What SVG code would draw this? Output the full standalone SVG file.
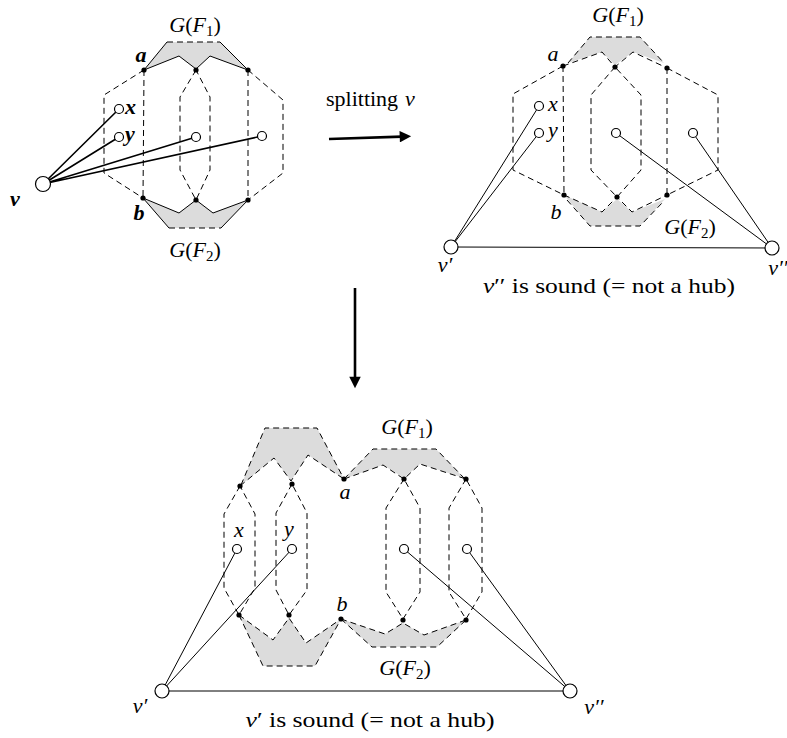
<svg xmlns="http://www.w3.org/2000/svg" width="787" height="738" viewBox="0 0 787 738">
<defs>
<style>
.d{fill:none;stroke:#000;stroke-width:1;stroke-dasharray:6,4}
.g{fill:#dcdcdc;stroke:none}
.s{fill:none;stroke:#000;stroke-width:1}
.sb{fill:none;stroke:#000;stroke-width:1.6}
.o{fill:#fff;stroke:#000;stroke-width:1.2}
.dot{fill:#000}
.arr{fill:none;stroke:#000;stroke-width:2.6}
text{font-family:"Liberation Serif","DejaVu Serif",serif;font-size:22px;fill:#000}
.i{font-style:italic}
.bi{font-style:italic;font-weight:bold}
.m{text-anchor:middle}
.sub{font-size:15px}
</style>
<marker id="ah" viewBox="0 0 10 10" refX="2" refY="5" markerWidth="5" markerHeight="4.4" orient="auto" markerUnits="strokeWidth">
<path d="M0,0 L10,5 L0,10 Z" fill="#000"/>
</marker>
</defs>

<!-- ===== Top-left diagram ===== -->
<g id="tl-F1">
<polygon class="g" points="167,42 220,42 248,70 210,56 196,69 179,56 144,70"/>
<path class="s" d="M144,70 L167,42 M220,42 L248,70 M144,70 L179,56 L196,69 L210,56 L248,70"/>
<path class="d" d="M167,42 L220,42"/>
</g>
<g id="tl-F2">
<polygon class="g" points="143,198 179,213 196,200 213,213 248,200 221,228 169,228"/>
<path class="s" d="M143,198 L169,228 M221,228 L248,200 M143,198 L179,213 L196,200 L213,213 L248,200"/>
<path class="d" d="M169,228 L221,228"/>
</g>
<g id="tl-hex">
<path class="d" d="M144,70 L104,95 L104,173 L143,198"/>
<path class="d" d="M248,70 L283,100 L283,173 L248,200"/>
<path class="d" d="M144,70 L143,198 M248,70 L248,200"/>
<path class="d" d="M196,70 L180,97 L180,170 L196,200 L210,170 L210,97 Z"/>
</g>
<g id="tl-edges">
<path class="sb" d="M43,184 L119,109 M43,184 L119,137 M43,184 L196,137 M43,184 L262,136"/>
</g>
<g id="tl-nodes">
<circle class="dot" cx="144" cy="70" r="2.6"/>
<circle class="dot" cx="196" cy="70" r="2.6"/>
<circle class="dot" cx="248" cy="70" r="2.6"/>
<circle class="dot" cx="143" cy="198" r="2.6"/>
<circle class="dot" cx="196" cy="200" r="2.6"/>
<circle class="dot" cx="248" cy="200" r="2.6"/>
<circle class="o" cx="119" cy="109" r="4.5"/>
<circle class="o" cx="119" cy="137" r="4.5"/>
<circle class="o" cx="196" cy="137" r="4.5"/>
<circle class="o" cx="262" cy="136" r="4.5"/>
<circle class="o" cx="43" cy="184" r="7.5"/>
</g>
<g id="tl-labels">
<text class="m" x="195" y="32"><tspan class="i">G</tspan>(<tspan class="i">F</tspan><tspan class="sub" dy="4">1</tspan><tspan dy="-4">)</tspan></text>
<text class="m" x="195" y="257"><tspan class="i">G</tspan>(<tspan class="i">F</tspan><tspan class="sub" dy="4">2</tspan><tspan dy="-4">)</tspan></text>
<text class="bi m" x="141" y="62">a</text>
<text class="bi m" x="139" y="220">b</text>
<text class="bi" x="125" y="114">x</text>
<text class="bi" x="125" y="141">y</text>
<text class="bi m" x="15" y="206">v</text>
</g>

<!-- ===== Splitting arrow ===== -->
<g id="split-arrow">
<text x="326" y="106">splitting</text>
<text class="i m" x="410" y="106">v</text>
<path class="arr" d="M329,139 L402,136.6" marker-end="url(#ah)"/>
</g>

<!-- ===== Top-right diagram ===== -->
<g id="tr-F1">
<polygon class="g" points="590,37 640,37 664,63 633,52 615,65 602,52 568,63"/>
<path class="d" d="M568,63 L590,37 L640,37 L664,63"/>
<path class="d" d="M563,66 L602,52 L615,67 L633,52 L667,68"/>
</g>
<g id="tr-F2">
<polygon class="g" points="564,195 602,212 617,199 632,212 665,199 640,226 590,226"/>
<path class="d" d="M567,200 L590,226 L640,226 L663,202"/>
<path class="d" d="M564,195 L602,212 L617,197 L632,212 L667,195"/>
</g>
<g id="tr-hex">
<path class="d" d="M563,66 L513,94 L513,170 L564,195"/>
<path class="d" d="M667,68 L718,95 L718,170 L667,195"/>
<path class="d" d="M563,66 L564,195 M667,68 L667,195"/>
<path class="d" d="M615,67 L591,95 L591,170 L617,197 L641,170 L641,95 Z"/>
</g>
<g id="tr-edges">
<path class="s" d="M451,247 L539,106 M451,247 L539,133 M772,248 L616,133 M772,248 L693,133 M451,247 L772,248"/>
</g>
<g id="tr-nodes">
<circle class="dot" cx="563" cy="66" r="2.6"/>
<circle class="dot" cx="615" cy="67" r="2.6"/>
<circle class="dot" cx="667" cy="68" r="2.6"/>
<circle class="dot" cx="564" cy="195" r="2.6"/>
<circle class="dot" cx="617" cy="197" r="2.6"/>
<circle class="dot" cx="667" cy="195" r="2.6"/>
<circle class="o" cx="539" cy="106" r="4.5"/>
<circle class="o" cx="539" cy="133" r="4.5"/>
<circle class="o" cx="616" cy="133" r="4.5"/>
<circle class="o" cx="693" cy="133" r="4.5"/>
<circle class="o" cx="451" cy="247" r="7"/>
<circle class="o" cx="772" cy="248" r="7"/>
</g>
<g id="tr-labels">
<text class="m" x="618" y="22"><tspan class="i">G</tspan>(<tspan class="i">F</tspan><tspan class="sub" dy="4">1</tspan><tspan dy="-4">)</tspan></text>
<text class="m" x="690" y="234"><tspan class="i">G</tspan>(<tspan class="i">F</tspan><tspan class="sub" dy="4">2</tspan><tspan dy="-4">)</tspan></text>
<text class="i m" x="553" y="61">a</text>
<text class="i m" x="556" y="219">b</text>
<text class="i" x="548" y="111">x</text>
<text class="i" x="548" y="137">y</text>
<text class="i m" x="445" y="272">v′</text>
<text class="i m" x="778" y="275">v′′</text>
<text class="m" x="609" y="293" textLength="252" lengthAdjust="spacingAndGlyphs"><tspan class="i">v</tspan>′′ is sound (= not a hub)</text>
</g>

<!-- ===== Down arrow ===== -->
<g id="down-arrow">
<path class="arr" d="M355,288 L355,379" marker-end="url(#ah)"/>
</g>

<!-- ===== Bottom diagram ===== -->
<g id="b-F1-left">
<polygon class="g" points="265,428 317,428 344,479 308,455 291,481 274,458 241,485"/>
<path class="d" d="M241,485 L265,428 L317,428 L344,479"/>
<path class="d" d="M240,486 L274,458 L291,481 L308,455 L344,479"/>
</g>
<g id="b-F1-right">
<polygon class="g" points="344,479 373,449 436,449 464,478 420,464 404,478 383,465"/>
<path class="d" d="M344,479 L373,449 L436,449 L464,478"/>
<path class="d" d="M344,479 L383,465 L404,479 L420,464 L466,479"/>
</g>
<g id="b-F2-left">
<polygon class="g" points="239,615 273,640 289,618 306,643 341,619 315,666 263,666"/>
<path class="d" d="M239,615 L263,666 L315,666 L341,619"/>
<path class="d" d="M239,615 L273,640 L289,618 L306,643 L341,619"/>
</g>
<g id="b-F2-right">
<polygon class="g" points="341,619 385,634 403,623 424,635 466,620 437,647 372,647"/>
<path class="d" d="M341,619 L372,647 L437,647 L466,620"/>
<path class="d" d="M341,619 L385,634 L403,623 L424,635 L466,620"/>
</g>
<g id="b-hex">
<path class="d" d="M240,486 L224,514 L224,588 L239,615 L255,588 L255,514 Z"/>
<path class="d" d="M292,484 L276,513 L276,590 L289,615 L307,590 L307,513 Z"/>
<path class="d" d="M404,479 L386,508 L386,592 L403,619 L420,592 L420,508 Z"/>
<path class="d" d="M466,479 L449,508 L449,592 L466,619 L482,592 L482,508 Z"/>
</g>
<g id="b-edges">
<path class="s" d="M162,691 L237,549 M162,691 L292,549 M570,691 L404,549 M570,691 L467,549 M162,691 L570,691"/>
</g>
<g id="b-nodes">
<circle class="dot" cx="240" cy="486" r="2.6"/>
<circle class="dot" cx="292" cy="484" r="2.6"/>
<circle class="dot" cx="344" cy="479" r="2.6"/>
<circle class="dot" cx="404" cy="479" r="2.6"/>
<circle class="dot" cx="466" cy="479" r="2.6"/>
<circle class="dot" cx="239" cy="615" r="2.6"/>
<circle class="dot" cx="289" cy="615" r="2.6"/>
<circle class="dot" cx="341" cy="619" r="2.6"/>
<circle class="dot" cx="403" cy="620" r="2.6"/>
<circle class="dot" cx="466" cy="620" r="2.6"/>
<circle class="o" cx="237" cy="549" r="4.5"/>
<circle class="o" cx="292" cy="549" r="4.5"/>
<circle class="o" cx="404" cy="549" r="4.5"/>
<circle class="o" cx="467" cy="549" r="4.5"/>
<circle class="o" cx="162" cy="691" r="7"/>
<circle class="o" cx="570" cy="691" r="7"/>
</g>
<g id="b-labels">
<text class="m" x="407" y="434"><tspan class="i">G</tspan>(<tspan class="i">F</tspan><tspan class="sub" dy="4">1</tspan><tspan dy="-4">)</tspan></text>
<text class="m" x="405" y="675"><tspan class="i">G</tspan>(<tspan class="i">F</tspan><tspan class="sub" dy="4">2</tspan><tspan dy="-4">)</tspan></text>
<text class="i m" x="345" y="499">a</text>
<text class="i m" x="342" y="611">b</text>
<text class="i m" x="239" y="537">x</text>
<text class="i m" x="289" y="536">y</text>
<text class="i m" x="140" y="713">v′</text>
<text class="i m" x="594" y="714">v′′</text>
<text class="m" x="370" y="727" textLength="249" lengthAdjust="spacingAndGlyphs"><tspan class="i">v</tspan>′ is sound (= not a hub)</text>
</g>
</svg>
